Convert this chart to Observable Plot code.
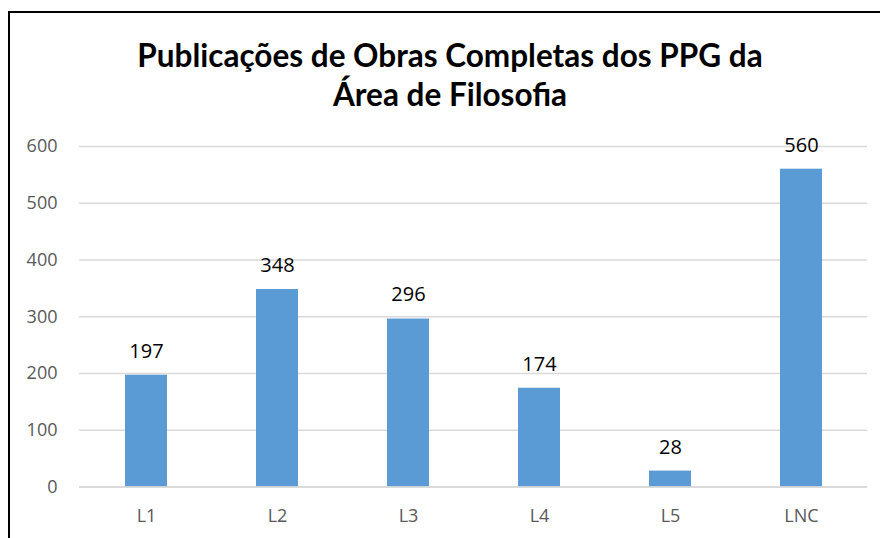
<!DOCTYPE html>
<html>
<head>
<meta charset="utf-8">
<script src="https://cdn.jsdelivr.net/npm/d3@7"></script>
<script src="https://cdn.jsdelivr.net/npm/@observablehq/plot@0.6"></script>
<style>
  html, body { margin: 0; padding: 0; background: #fff; }
  body { width: 880px; height: 538px; position: relative; overflow: hidden; }
  #frame { position: absolute; left: 8px; top: 11px; width: 900px; height: 600px;
           border-left: 2px solid #000; border-top: 2px solid #000; }
  #title { position: absolute; left: 0; width: 900px; top: 36px; text-align: center;
           font-family: Lato, "Open Sans", sans-serif; font-weight: bold; font-size: 31.5px;
           line-height: 39px; color: #000; }
  #chart { position: absolute; left: 0; top: 0; }
</style>
</head>
<body>
<div id="frame"></div>
<div id="title">Publicações de Obras Completas dos PPG da<br>Área de Filosofia</div>
<div id="chart"></div>
<script>
const categories = ["L1", "L2", "L3", "L4", "L5", "LNC"];
const values = [197, 348, 296, 174, 28, 560];
const yTicks = [0, 100, 200, 300, 400, 500, 600];

const data = categories.map((c, i) => ({category: c, value: values[i]}));

const plot = Plot.plot({
  width: 880,
  height: 538,
  marginLeft: 79,
  marginRight: 13,
  marginTop: 146,
  marginBottom: 51.5,
  style: {fontFamily: "'Open Sans', sans-serif", background: "transparent", overflow: "visible"},
  x: {domain: categories, paddingInner: 0.68, paddingOuter: 0.34, label: null},
  y: {domain: [0, 600], ticks: yTicks, label: null},
  marks: [
    Plot.gridY(yTicks, {stroke: "#d9d9d9", strokeOpacity: 1, strokeWidth: 1.5}),
    Plot.barY(data, {x: "category", y: "value", fill: "#5b9bd5"}),
    Plot.ruleY([0], {stroke: "#d9d9d9", strokeWidth: 1.5}),
    Plot.text(data, {x: "category", y: "value", text: d => String(d.value), dy: -24,
      fontSize: 20, fill: "#000"}),
    Plot.axisY(yTicks, {tickSize: 0, tickPadding: 22, fontSize: 18, fill: "#595959", label: null}),
    Plot.axisX({tickSize: 0, tickPadding: 22, fontSize: 18, fill: "#595959", label: null})
  ]
});
document.getElementById("chart").appendChild(plot);
</script>
</body>
</html>
